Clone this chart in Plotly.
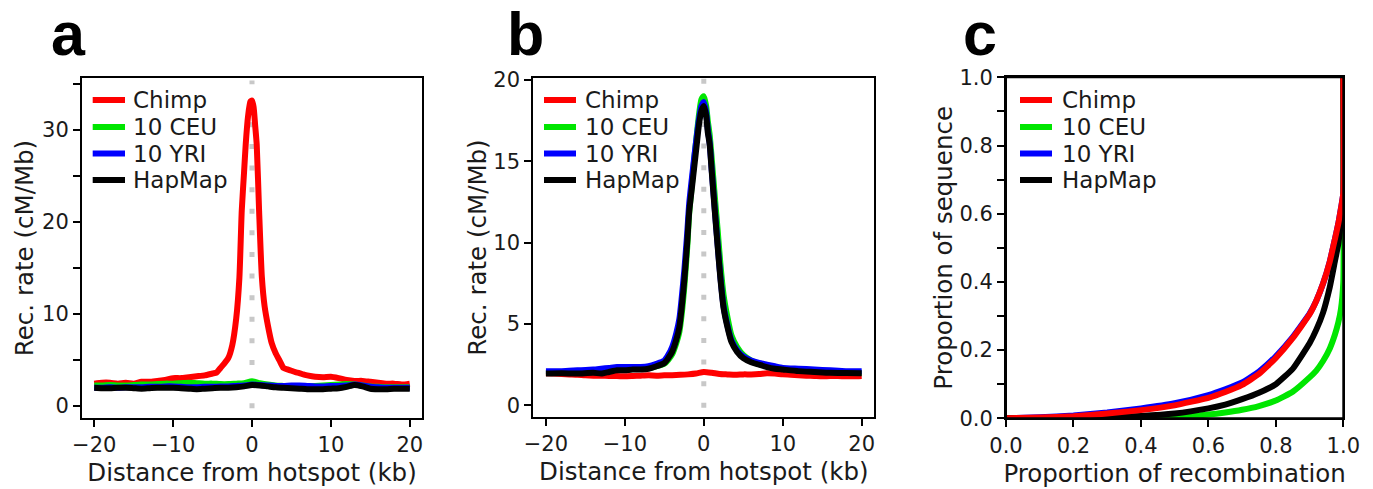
import plotly.graph_objects as go

# ---------------- data ----------------
series_names = ["Chimp", "10 CEU", "10 YRI", "HapMap"]
series_colors = ["#ff0000", "#00e600", "#0000ff", "#000000"]

# Panel a: recombination rate around hotspots (Chimp-defined hotspots)
x_a_chimp = [-20, -19, -18, -17, -16, -15, -14, -13, -12, -11, -10, -9, -8, -7, -6, -5,
             -4.5, -4, -3.5, -3, -2.5, -2, -1.6, -1.3, -1, -0.8, -0.5, -0.2, 0, 0.2, 0.4,
             0.6, 0.9, 1.25, 1.6, 2, 2.5, 3, 3.5, 4, 4.5, 5, 5.5, 6, 6.5, 7, 8, 9, 10, 11,
             12, 13, 14, 15, 16, 17, 18, 19, 20]
y_a_chimp = [2.4, 2.5, 2.5, 2.4, 2.5, 2.4, 2.6, 2.6, 2.7, 2.8, 3.0, 3.0, 3.1, 3.2, 3.3, 3.5,
             3.6, 4.1, 4.6, 5.2, 6.6, 9.5, 13.9, 21.2, 25.5, 28.4, 31.5, 33.1, 33.2, 32.5, 30.5,
             28.4, 21.2, 14.0, 10.8, 8.8, 6.8, 5.7, 4.9, 4.1, 3.95, 3.8, 3.65, 3.55, 3.4, 3.3,
             3.15, 3.1, 3.15, 3.0, 2.8, 2.7, 2.7, 2.6, 2.5, 2.4, 2.4, 2.3, 2.4]
x_a_pop = list(range(-20, 21))
y_a_ceu = [2.2, 2.2, 2.25, 2.2, 2.2, 2.25, 2.3, 2.3, 2.35, 2.4, 2.4, 2.45, 2.5, 2.45, 2.4,
           2.4, 2.35, 2.35, 2.4, 2.45, 2.65, 2.45, 2.3, 2.2, 2.15, 2.1, 2.05, 2.1, 2.15, 2.2,
           2.25, 2.3, 2.35, 2.3, 2.2, 2.1, 2.05, 2.0, 2.0, 2.0, 2.0]
y_a_yri = [1.95, 1.95, 2.0, 1.95, 2.0, 2.0, 2.0, 2.05, 2.05, 2.1, 2.1, 2.05, 2.0, 2.0, 2.05,
           2.05, 2.1, 2.1, 2.15, 2.2, 2.3, 2.25, 2.2, 2.15, 2.15, 2.2, 2.2, 2.15, 2.1, 2.1,
           2.15, 2.15, 2.2, 2.3, 2.2, 2.05, 2.0, 1.95, 1.95, 1.95, 1.95]
y_a_hapmap = [1.95, 1.9, 1.9, 1.95, 1.95, 1.9, 1.85, 1.9, 1.95, 1.95, 1.95, 1.9, 1.85, 1.8,
              1.85, 1.9, 1.95, 1.95, 2.0, 2.1, 2.25, 2.2, 2.1, 2.0, 1.95, 1.9, 1.85, 1.8, 1.8,
              1.8, 1.85, 1.9, 2.05, 2.25, 2.1, 1.85, 1.8, 1.8, 1.85, 1.85, 1.85]

# Panel b: recombination rate around hotspots (human-defined hotspots)
x_b_chimp = list(range(-20, 21))
y_b_chimp = [1.97, 1.95, 1.92, 1.9, 1.88, 1.84, 1.82, 1.82, 1.8, 1.8, 1.78, 1.8, 1.82, 1.84,
             1.82, 1.84, 1.85, 1.87, 1.9, 1.95, 2.05, 2.0, 1.92, 1.9, 1.88, 1.9, 1.9, 1.92,
             1.97, 1.95, 1.9, 1.88, 1.85, 1.82, 1.8, 1.78, 1.8, 1.8, 1.78, 1.78, 1.8]
x_b_pop = [-20, -18, -16, -14, -13, -12, -11, -10, -9, -8, -7, -6, -5, -4.5, -4, -3.5, -3.1,
           -2.8, -2.45, -2.1, -1.85, -1.5, -1.2, -0.9, -0.6, -0.3, 0, 0.3, 0.5, 0.75, 1.0,
           1.4, 1.75, 2.1, 2.5, 3.0, 3.5, 4.2, 5, 6, 7, 8, 9, 10, 12, 14, 16, 18, 20]
y_b_ceu = [2.0, 2.0, 2.0, 2.05, 2.0, 2.1, 2.2, 2.2, 2.25, 2.25, 2.3, 2.4, 2.55, 2.8, 3.15,
           3.8, 4.5, 5.6, 7.4, 9.7, 11.8, 13.6, 15.2, 16.6, 17.9, 18.8, 19.0, 18.4, 17.5,
           16.6, 15.2, 12.8, 10.8, 8.7, 6.8, 5.4, 4.3, 3.6, 3.1, 2.75, 2.55, 2.4, 2.3, 2.25,
           2.15, 2.1, 2.05, 2.0, 2.0]
y_b_yri = [2.1, 2.1, 2.15, 2.2, 2.25, 2.3, 2.35, 2.35, 2.35, 2.35, 2.4, 2.55, 2.75, 3.1, 3.6,
           4.4, 5.3, 6.6, 8.4, 10.6, 12.4, 14.0, 15.3, 16.5, 17.6, 18.4, 18.65, 18.0, 17.0,
           16.1, 14.5, 12.0, 9.9, 7.9, 6.1, 4.9, 4.0, 3.4, 3.0, 2.75, 2.6, 2.5, 2.4, 2.3,
           2.25, 2.2, 2.15, 2.1, 2.1]
y_b_hapmap = [1.95, 1.97, 1.95, 2.0, 1.95, 2.05, 2.15, 2.15, 2.2, 2.2, 2.25, 2.4, 2.6, 2.9,
              3.3, 4.0, 4.8, 6.0, 7.8, 10.0, 11.9, 13.4, 14.7, 16.0, 17.3, 18.1, 18.4, 17.8,
              16.8, 16.0, 14.4, 11.9, 9.8, 7.8, 6.0, 4.8, 3.9, 3.3, 2.9, 2.65, 2.5, 2.35, 2.25,
              2.2, 2.1, 2.05, 2.0, 1.98, 1.97]

# Panel c: proportion of sequence vs proportion of recombination
x_c = [0, 0.1, 0.2, 0.3, 0.4, 0.5, 0.6, 0.65, 0.7, 0.75, 0.8, 0.85, 0.9, 0.92, 0.94, 0.96,
       0.975, 0.985, 0.993, 1.0, 1.0]
y_c_chimp = [0, 0.002, 0.006, 0.014, 0.024, 0.038, 0.060, 0.077, 0.098, 0.130, 0.177, 0.235,
             0.305, 0.345, 0.395, 0.46, 0.525, 0.57, 0.615, 0.66, 1.0]
y_c_yri = [0, 0.003, 0.008, 0.017, 0.029, 0.044, 0.068, 0.085, 0.105, 0.137, 0.182, 0.238,
           0.307, 0.345, 0.395, 0.46, 0.525, 0.57, 0.615, 0.66, 1.0]
y_c_hapmap = [0, 0.0005, 0.002, 0.004, 0.007, 0.014, 0.029, 0.04, 0.056, 0.075, 0.100, 0.145,
              0.220, 0.26, 0.31, 0.385, 0.46, 0.51, 0.575, 0.63, 1.0]
y_c_ceu = [0, 0, 0.0005, 0.001, 0.002, 0.004, 0.011, 0.017, 0.025, 0.036, 0.052, 0.078,
           0.120, 0.14, 0.168, 0.205, 0.245, 0.28, 0.32, 0.40, 1.0]

panel_letters = ["a", "b", "c"]
x_title_ab = "Distance from hotspot (kb)"
y_title_ab = "Rec. rate (cM/Mb)"
x_title_c = "Proportion of recombination"
y_title_c = "Proportion of sequence"

# ---------------- figure ----------------
W, H = 1373, 489
FONT = "DejaVu Sans"
TXT = "#1a1a1a"
LW = 6


def px_x(p):
    return p / W


def px_y(p):
    return 1 - p / H


fig = go.Figure()


def add(x, y, idx, xa, ya, smoothing=0.6):
    line = dict(color=series_colors[idx], width=LW, shape="spline", smoothing=smoothing)
    fig.add_trace(go.Scatter(x=x, y=y, mode="lines", name=series_names[idx], line=line,
                             xaxis=xa, yaxis=ya, showlegend=False))


# panel a
add(x_a_chimp, y_a_chimp, 0, "x", "y")
add(x_a_pop, y_a_ceu, 1, "x", "y")
add(x_a_pop, y_a_yri, 2, "x", "y")
add(x_a_pop, y_a_hapmap, 3, "x", "y")
# panel b
add(x_b_chimp, y_b_chimp, 0, "x2", "y2")
add(x_b_pop, y_b_ceu, 1, "x2", "y2")
add(x_b_pop, y_b_yri, 2, "x2", "y2")
add(x_b_pop, y_b_hapmap, 3, "x2", "y2")
# panel c
add(x_c, y_c_yri, 2, "x3", "y3", 0.4)
add(x_c, y_c_ceu, 1, "x3", "y3", 0.4)
add(x_c, y_c_hapmap, 3, "x3", "y3", 0.4)
add(x_c, y_c_chimp, 0, "x3", "y3", 0.4)

tickfont = dict(family=FONT, size=21, color=TXT)
titlefont = dict(family=FONT, size=24.5, color=TXT)

common = dict(showgrid=False, zeroline=False, showline=True, mirror=True,
              linecolor="black", linewidth=2, ticks="outside", ticklen=7,
              tickwidth=2, tickcolor="black", tickfont=tickfont, automargin=False)

dom_a_x = [px_x(82), px_x(422)]
dom_b_x = [px_x(533.3), px_x(874.3)]
dom_c_x = [px_x(1006), px_x(1343.3)]
dom_a_y = [px_y(418), px_y(78)]
dom_b_y = [px_y(417), px_y(78)]
dom_c_y = [px_y(418.3), px_y(77.3)]

xt = [-20, -10, 0, 10, 20]
yt_c = [i / 10 for i in range(11)]
fig.update_layout(
    xaxis=dict(domain=dom_a_x, anchor="y", range=[-21.55, 21.55], tickvals=xt,
               title=dict(text=x_title_ab, font=titlefont, standoff=8), **common),
    yaxis=dict(domain=dom_a_y, anchor="x", range=[-1.34, 35.66],
               tickvals=[0, 5, 10, 15, 20, 25, 30, 35],
               ticktext=["0", "", "10", "", "20", "", "30", ""],
               title=dict(text=y_title_ab, font=titlefont, standoff=1), **common),
    xaxis2=dict(domain=dom_b_x, anchor="y2", range=[-21.6, 21.6], tickvals=xt,
                title=dict(text=x_title_ab, font=titlefont, standoff=8), **common),
    yaxis2=dict(domain=dom_b_y, anchor="x2", range=[-0.72, 20.12],
                tickvals=[0, 5, 10, 15, 20],
                title=dict(text=y_title_ab, font=titlefont, standoff=0), **common),
    xaxis3=dict(domain=dom_c_x, anchor="y3", range=[0, 1],
                tickvals=[0, 0.2, 0.4, 0.6, 0.8, 1.0], tickformat=".1f",
                title=dict(text=x_title_c, font=titlefont, standoff=8), **common),
    yaxis3=dict(domain=dom_c_y, anchor="x3", range=[0, 1], tickvals=yt_c,
                ticktext=["0.0", "", "0.2", "", "0.4", "", "0.6", "", "0.8", "", "1.0"],
                title=dict(text=y_title_c, font=titlefont, standoff=0), **common),
    xaxis4=dict(overlaying="x3", anchor="y3", side="bottom", range=[0, 1],
                tickvals=[0, 0.2, 0.4, 0.6, 0.8, 1.0], ticks="inside", ticklen=3,
                tickwidth=1.5, tickcolor="black", showticklabels=False,
                showgrid=False, zeroline=False, showline=False, automargin=False),
    yaxis4=dict(overlaying="y3", anchor="x3", side="right", range=[0, 1],
                tickvals=yt_c, ticks="inside", ticklen=3,
                tickwidth=1.5, tickcolor="black", showticklabels=False,
                showgrid=False, zeroline=False, showline=False, automargin=False),
    width=W, height=H, margin=dict(l=0, r=0, t=0, b=0, autoexpand=False),
    paper_bgcolor="white", plot_bgcolor="white", showlegend=False,
)

# frame of panel c (its top edge is not drawn by the mirrored axis)
fig.add_shape(type="rect", xref="x3 domain", yref="y3 domain", x0=0, x1=1, y0=0, y1=1,
              line=dict(color="black", width=2), fillcolor="rgba(0,0,0,0)", layer="above")

# dotted reference line at the hotspot centre (panels a and b)
fig.add_shape(type="line", xref="x", yref="y", x0=0, x1=0, y0=-0.27, y1=35.4,
              line=dict(color="#c8c8c8", width=5, dash="5px,16.6px"), layer="below")
fig.add_shape(type="line", xref="x2", yref="y2", x0=0, x1=0, y0=-0.15, y1=20.1,
              line=dict(color="#c8c8c8", width=5, dash="5px,16.6px"), layer="below")

# legends (one per panel)
legend_pos = [(92.7, 125, 130.7), (544, 576, 582.7), (1020, 1052, 1060)]
rows = [100, 127, 153.5, 180]
for (lx0, lx1, tx) in legend_pos:
    for i, name in enumerate(series_names):
        fig.add_shape(type="line", xref="paper", yref="paper",
                      x0=px_x(lx0), x1=px_x(lx1), y0=px_y(rows[i]), y1=px_y(rows[i]),
                      line=dict(color=series_colors[i], width=6))
        fig.add_annotation(text=name, xref="paper", yref="paper", x=px_x(tx),
                           y=px_y(rows[i]), xanchor="left", yanchor="middle",
                           showarrow=False, font=dict(family=FONT, size=23, color=TXT))

# panel letters
for letter, cx in zip(panel_letters, [68, 525.5, 979.5]):
    fig.add_annotation(text="<b>%s</b>" % letter, xref="paper", yref="paper",
                       x=px_x(cx), y=px_y(34), xanchor="center", yanchor="middle",
                       height=56, showarrow=False,
                       font=dict(family="Liberation Sans", size=61, color="black"))

fig.write_html("out.html", config={"displayModeBar": False},
               post_script="document.body.style.margin='0px';")
